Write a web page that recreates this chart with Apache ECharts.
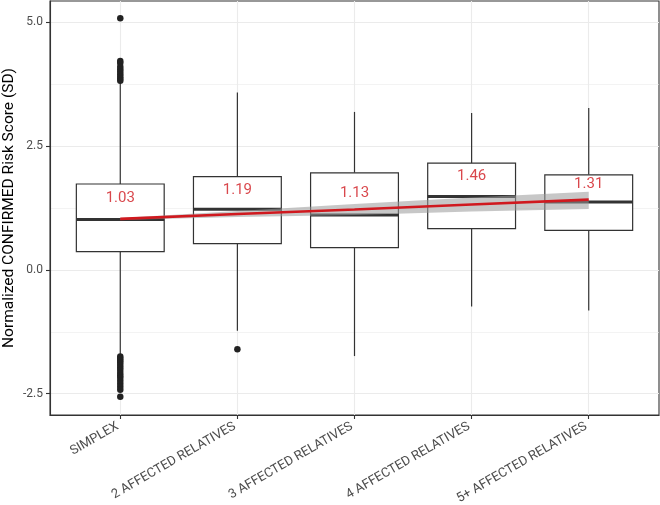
<!DOCTYPE html>
<html>
<head>
<meta charset="utf-8">
<script src="https://cdn.jsdelivr.net/npm/echarts@6.0.0/dist/echarts.min.js"></script>
<style>
  html, body { margin: 0; padding: 0; background: #fff; }
  #main { width: 660px; height: 505px; }
</style>
</head>
<body>
<div id="main"></div>
<script>
// groups on the x axis
const categories = ['SIMPLEX', '2 AFFECTED RELATIVES', '3 AFFECTED RELATIVES', '4 AFFECTED RELATIVES', '5+ AFFECTED RELATIVES']

// box statistics
const whiskerLow = [-1.70, -1.23, -1.74, -0.74, -0.82]
const q1 = [0.37, 0.53, 0.45, 0.835, 0.80]
const medians = [1.02, 1.225, 1.11, 1.48, 1.37]
const q3 = [1.735, 1.885, 1.96, 2.155, 1.92]
const whiskerHigh = [3.78, 3.58, 3.19, 3.17, 3.27]

// outliers per group
const simplexOutliers = [5.08, 4.22, 4.18, 4.10, 4.05, 4.00, 3.95, 3.90, 3.86, 3.82,
  -1.75, -1.79, -1.83, -1.87, -1.92, -1.97, -2.02, -2.08, -2.13, -2.18, -2.24, -2.30, -2.36, -2.42, -2.56]
const twoRelOutliers = [-1.60]

// red labels (group means)
const meanLabels = [1.03, 1.19, 1.13, 1.46, 1.31]

// linear fit and its confidence band
const fitLine = [1.03, 1.13, 1.22, 1.32, 1.42]
const ciLow = [1.01, 1.07, 1.11, 1.18, 1.23]
const ciHigh = [1.05, 1.19, 1.33, 1.46, 1.58]

const yTicks = [-2.5, 0, 2.5, 5]
const yMinor = [-1.25, 1.25, 3.75]
const xTicks = [0, 1, 2, 3, 4]

const red = '#d0191f'
const dark = '#333333'
const gridGrey = '#ebebeb'

const chart = echarts.init(document.getElementById('main'))

const boxData = categories.map((c, i) => [i, whiskerLow[i], q1[i], medians[i], q3[i], whiskerHigh[i]])
const outlierData = []
simplexOutliers.forEach(v => outlierData.push([0, v]))
twoRelOutliers.forEach(v => outlierData.push([1, v]))

const gridLines = []
yTicks.forEach(v => gridLines.push({ yAxis: v, lineStyle: { color: gridGrey, width: 1.1, type: 'solid' } }))
yMinor.forEach(v => gridLines.push({ yAxis: v, lineStyle: { color: gridGrey, width: 0.6, type: 'solid' } }))
xTicks.forEach(v => gridLines.push({ xAxis: v, lineStyle: { color: gridGrey, width: 1.1, type: 'solid' } }))

function renderBox (params, api) {
  const x = api.value(0)
  const lo = api.coord([x, api.value(1)])
  const b1 = api.coord([x, api.value(2)])
  const md = api.coord([x, api.value(3)])
  const b3 = api.coord([x, api.value(4)])
  const hi = api.coord([x, api.value(5)])
  const half = api.size([0.75, 0])[0] / 2
  const stroke = { stroke: dark, lineWidth: 1.2, fill: null }
  return {
    type: 'group',
    children: [
      { type: 'line', shape: { x1: lo[0], y1: lo[1], x2: b1[0], y2: b1[1] }, style: stroke },
      { type: 'line', shape: { x1: b3[0], y1: b3[1], x2: hi[0], y2: hi[1] }, style: stroke },
      { type: 'rect', shape: { x: b3[0] - half, y: b3[1], width: half * 2, height: b1[1] - b3[1] },
        style: { fill: '#fff', stroke: dark, lineWidth: 1.2 } },
      { type: 'line', shape: { x1: md[0] - half, y1: md[1], x2: md[0] + half, y2: md[1] },
        style: { stroke: dark, lineWidth: 3 } }
    ]
  }
}

// confidence band as one polygon: upper edge left->right, lower edge right->left
function renderBand (params, api) {
  if (params.dataIndex !== 0) return null
  const pts = []
  ciHigh.forEach((v, i) => pts.push(api.coord([i, v])))
  for (let i = ciLow.length - 1; i >= 0; i--) pts.push(api.coord([i, ciLow[i]]))
  return { type: 'polygon', shape: { points: pts }, style: { fill: 'rgba(153,153,153,0.55)' } }
}

const option = {
  animation: false,
  textStyle: { fontFamily: 'Roboto' },
  grid: {
    left: 50, right: 1, top: 1, bottom: 90,
    outerBoundsMode: 'none',
    containLabel: false,
    show: true, borderColor: dark, borderWidth: 1.1, backgroundColor: '#fff'
  },
  xAxis: {
    type: 'value',
    min: -0.6,
    max: 4.6,
    axisLine: { show: true, onZero: false, lineStyle: { color: dark, width: 1.1 } },
    axisTick: { show: true, length: 4, customValues: xTicks, lineStyle: { color: dark, width: 1.1 } },
    axisLabel: {
      customValues: xTicks,
      rotate: 30,
      margin: 9,
      padding: [0, 3, 0, 0],
      color: '#4d4d4d',
      fontSize: 13,
      formatter: v => (Number.isInteger(v) && categories[v]) ? categories[v] : ''
    },
    splitLine: { show: false }
  },
  yAxis: {
    type: 'value',
    min: -2.93,
    max: 5.43,
    name: 'Normalized CONFIRMED Risk Score (SD)',
    nameLocation: 'middle',
    nameGap: 33,
    nameMoveOverlap: false,
    nameTextStyle: { fontSize: 15.5, color: '#000' },
    axisLine: { show: true, onZero: false, lineStyle: { color: dark, width: 1.1 } },
    axisTick: { show: true, length: 4, customValues: yTicks, lineStyle: { color: dark, width: 1.1 } },
    axisLabel: {
      customValues: yTicks,
      margin: 7,
      color: '#4d4d4d',
      fontSize: 12,
      formatter: v => v.toFixed(1)
    },
    splitLine: { show: false }
  },
  series: [
    {
      name: 'grid',
      type: 'line',
      data: fitLine.map((v, i) => [i, v]),
      symbol: 'none',
      lineStyle: { opacity: 0 },
      silent: true,
      z: 0,
      markLine: {
        silent: true,
        z: 0,
        symbol: ['none', 'none'],
        label: { show: false },
        emphasis: { disabled: true },
        data: gridLines
      }
    },
    {
      name: 'boxes',
      type: 'custom',
      renderItem: renderBox,
      data: boxData,
      z: 2,
      silent: true
    },
    {
      name: 'outliers',
      type: 'scatter',
      data: outlierData,
      symbolSize: 6.5,
      itemStyle: { color: '#222', opacity: 1 },
      z: 3,
      silent: true
    },
    {
      name: 'ciBand',
      type: 'custom',
      renderItem: renderBand,
      data: ciLow.map((v, i) => [i, v]),
      silent: true,
      z: 4
    },
    {
      name: 'fit',
      type: 'line',
      data: fitLine.map((v, i) => [i, v]),
      symbol: 'none',
      lineStyle: { color: red, width: 2.6 },
      silent: true,
      z: 5
    },
    {
      name: 'means',
      type: 'scatter',
      data: meanLabels.map((v, i) => [i, v]),
      symbolSize: 0,
      itemStyle: { color: 'rgba(0,0,0,0)' },
      label: {
        show: true,
        position: 'inside',
        offset: [0, -21],
        color: red,
        fontSize: 15,
        formatter: p => p.value[1].toFixed(2)
      },
      silent: true,
      z: 6
    }
  ]
}

chart.setOption(option)
</script>
</body>
</html>
